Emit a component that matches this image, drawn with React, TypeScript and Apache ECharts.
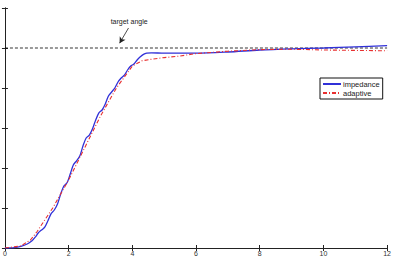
import React, { useEffect, useRef } from "react";
import * as echarts from "echarts";

const xTicks = [0, 2, 4, 6, 8, 10, 12];
const targetAngle = 5;
const impedance: [number, number][] = [
  [0, 0], [0.3, 0.01], [0.5, 0.04], [0.7, 0.1], [0.85, 0.18], [0.95, 0.27], [1.05, 0.38], [1.15, 0.45],
  [1.25, 0.52], [1.35, 0.68], [1.45, 0.86], [1.55, 0.95], [1.65, 1.1], [1.75, 1.35], [1.85, 1.55],
  [1.95, 1.63], [2.05, 1.85], [2.15, 2.08], [2.25, 2.18], [2.35, 2.3], [2.45, 2.55], [2.55, 2.75],
  [2.65, 2.82], [2.75, 2.98], [2.85, 3.2], [2.95, 3.38], [3.05, 3.45], [3.15, 3.6], [3.25, 3.8],
  [3.35, 3.9], [3.45, 4.0], [3.55, 4.15], [3.65, 4.25], [3.75, 4.32], [3.85, 4.45], [3.95, 4.55],
  [4.05, 4.6], [4.15, 4.7], [4.25, 4.78], [4.35, 4.84], [4.45, 4.87], [4.6, 4.88], [5, 4.87],
  [6, 4.87], [7, 4.9], [8, 4.95], [9, 4.98], [10, 5.0], [11, 5.03], [12, 5.06],
];
const adaptive: [number, number][] = [
  [0, 0], [0.5, 0.05], [0.8, 0.2], [1.0, 0.4], [1.5, 1.0], [2.0, 1.7], [2.5, 2.5], [3.0, 3.3],
  [3.5, 4.0], [4.0, 4.55], [4.3, 4.68], [4.6, 4.72], [5, 4.76], [5.5, 4.8], [6, 4.86], [7, 4.92],
  [8, 4.96], [9, 4.97], [10, 4.95], [11, 4.94], [12, 4.93],
];
const target: [number, number][] = [[0, targetAngle], [12, targetAngle]];
const annotation = { text: "target angle", textAt: [3.9, 5.66], from: [3.88, 5.5], to: [3.6, 5.12] };

export default function App() {
  const ref = useRef<HTMLDivElement>(null);
  useEffect(() => {
    const chart = echarts.init(ref.current!, null, { renderer: "svg" });
    const axisLine = { show: true, lineStyle: { color: "#222", width: 1 } };
    const tick = { show: true, inside: true, length: 3, lineStyle: { color: "#222" } };
    chart.setOption({
      animation: false,
      grid: { left: 2, right: 5, top: 8, bottom: 10 },
      xAxis: [
        {
          type: "value", min: 0, max: 12, interval: 2, axisLine, axisTick: tick, splitLine: { show: false },
          axisLabel: { fontSize: 7, color: "#333", margin: 2, fontFamily: "Liberation Sans" },
        },
        { type: "value", position: "top", min: 0, max: 12, interval: 2, axisLine, axisTick: tick, axisLabel: { show: false }, splitLine: { show: false } },
      ],
      yAxis: [
        { type: "value", min: 0, max: 6, interval: 1, axisLine, axisTick: tick, axisLabel: { show: false }, splitLine: { show: false } },
        { type: "value", position: "right", min: 0, max: 6, interval: 1, axisLine, axisTick: tick, axisLabel: { show: false }, splitLine: { show: false } },
      ],
      legend: {
        orient: "vertical", left: 320, top: 78, itemGap: 1, itemWidth: 18, itemHeight: 6,
        borderColor: "#111", borderWidth: 1, padding: [2, 3, 2, 2], borderRadius: 0,
        itemStyle: { opacity: 0 },
        textStyle: { fontSize: 7.5, fontFamily: "Liberation Sans", color: "#222", padding: [0, 0, 0, -3] },
        data: ["impedance", "adaptive"],
      },
      series: [
        {
          name: "target", type: "line", data: target, showSymbol: false, symbol: "none", silent: true,
          lineStyle: { color: "#000", width: 0.8, type: [3, 2] },
          markLine: {
            silent: true, symbol: ["none", "arrow"], symbolSize: [5, 6], label: { show: false },
            lineStyle: { color: "#222", width: 0.8, type: "solid" },
            data: [[{ coord: annotation.from }, { coord: annotation.to }]],
          },
          markPoint: {
            silent: true, symbol: "circle", symbolSize: 0,
            label: { show: true, formatter: annotation.text, fontSize: 7, color: "#222", fontFamily: "Liberation Sans", position: "inside" },
            data: [{ coord: annotation.textAt }],
          },
        },
        {
          name: "impedance", type: "line", data: impedance, symbol: "none", smooth: 0.3,
          lineStyle: { color: "#3030d8", width: 1.3 }, itemStyle: { color: "#3030d8" }, z: 3,
        },
        {
          name: "adaptive", type: "line", data: adaptive, symbol: "none",
          lineStyle: { color: "#e83030", width: 1.1, type: [4, 2, 1, 2] }, itemStyle: { color: "#e83030" }, z: 4,
        },
      ],
    });
    return () => chart.dispose();
  }, []);
  return <div ref={ref} style={{ position: "absolute", left: 0, top: 0, width: 394, height: 258, background: "#fff" }} />;
}
